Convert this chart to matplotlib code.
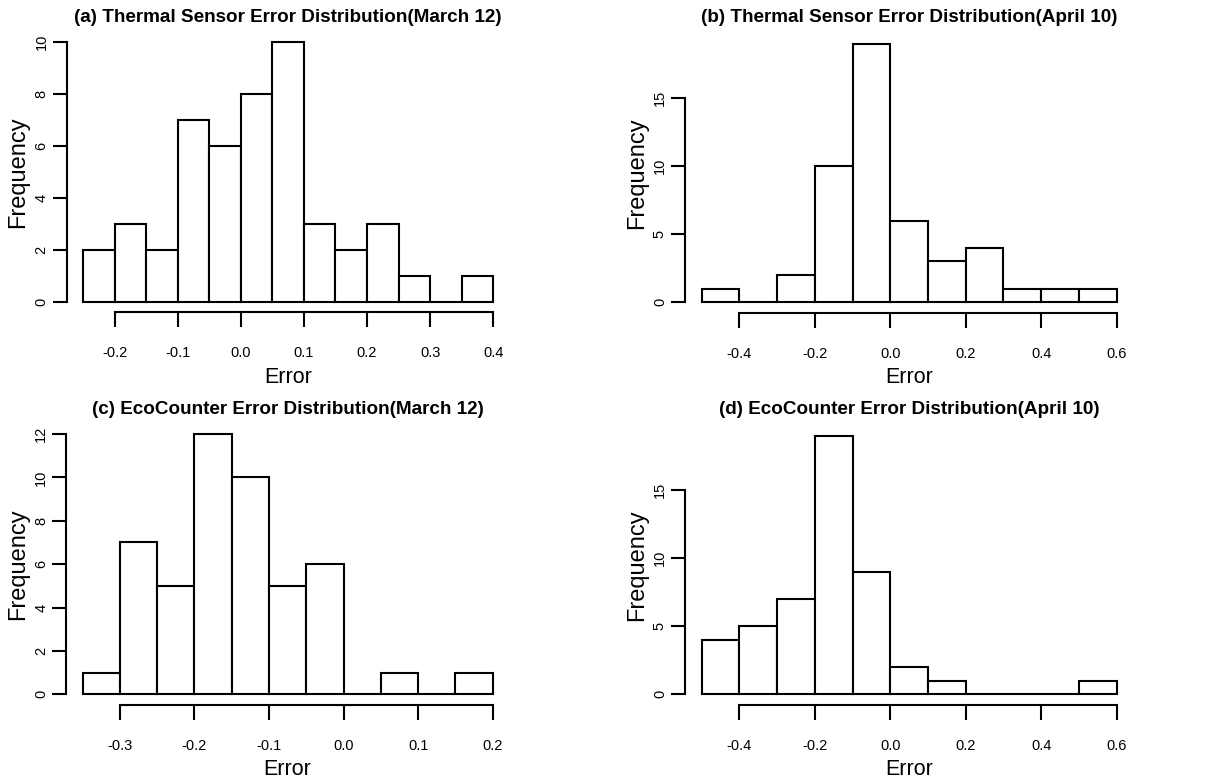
import matplotlib
matplotlib.use("Agg")
import matplotlib.pyplot as plt

# histogram data (bin edges + counts per bin)
edges_a = [-0.25, -0.20, -0.15, -0.10, -0.05, 0.00, 0.05, 0.10, 0.15, 0.20, 0.25, 0.30, 0.35, 0.40]
counts_a = [2, 3, 2, 7, 6, 8, 10, 3, 2, 3, 1, 0, 1]
edges_b = [-0.5, -0.4, -0.3, -0.2, -0.1, 0.0, 0.1, 0.2, 0.3, 0.4, 0.5, 0.6]
counts_b = [1, 0, 2, 10, 19, 6, 3, 4, 1, 1, 1]
edges_c = [-0.35, -0.30, -0.25, -0.20, -0.15, -0.10, -0.05, 0.00, 0.05, 0.10, 0.15, 0.20]
counts_c = [1, 7, 5, 12, 10, 5, 6, 0, 1, 0, 1]
edges_d = [-0.5, -0.4, -0.3, -0.2, -0.1, 0.0, 0.1, 0.2, 0.3, 0.4, 0.5, 0.6]
counts_d = [4, 5, 7, 19, 9, 2, 1, 0, 0, 0, 1]

xticks_a = [-0.2, -0.1, 0.0, 0.1, 0.2, 0.3, 0.4]
xticks_b = [-0.4, -0.2, 0.0, 0.2, 0.4, 0.6]
xticks_c = [-0.3, -0.2, -0.1, 0.0, 0.1, 0.2]
xticks_d = [-0.4, -0.2, 0.0, 0.2, 0.4, 0.6]
yticks_a = [0, 2, 4, 6, 8, 10]
yticks_b = [0, 5, 10, 15]
yticks_c = [0, 2, 4, 6, 8, 10, 12]
yticks_d = [0, 5, 10, 15]

titles = ['(a) Thermal Sensor Error Distribution(March 12)',
          '(b) Thermal Sensor Error Distribution(April 10)',
          '(c) EcoCounter Error Distribution(March 12)',
          '(d) EcoCounter Error Distribution(April 10)']

W, H = 1223, 784
plt.rcParams['font.family'] = ['Liberation Sans', 'DejaVu Sans']

fig = plt.figure(figsize=(W / 100, H / 100), dpi=100)

# plot regions in pixels: left, right, top, bottom
regions = [(66.6, 509.6, 31.6, 312.4),
           (685.0, 1133.3, 33.6, 312.6),
           (66.3, 509.0, 423.6, 704.7),
           (685.0, 1133.3, 425.2, 704.7)]
title_y = [17, 17, 410, 410]
ylab_x = [18, 637, 18, 637]

panels = [(edges_a, counts_a, xticks_a, yticks_a),
          (edges_b, counts_b, xticks_b, yticks_b),
          (edges_c, counts_c, xticks_c, yticks_c),
          (edges_d, counts_d, xticks_d, yticks_d)]

lw = 1.5
for i, ((l, r, t, b), (edges, counts, xt, yt), title) in enumerate(zip(regions, panels, titles)):
    ax = fig.add_axes([l / W, 1 - b / H, (r - l) / W, (b - t) / H])
    lefts = edges[:-1]
    widths = [edges[k + 1] - edges[k] for k in range(len(counts))]
    ax.bar(lefts, counts, width=widths, align='edge', facecolor='white',
           edgecolor='black', linewidth=lw)

    # R-style 4% padding around the data range
    xr = edges[-1] - edges[0]
    ax.set_xlim(edges[0] - 0.04 * xr, edges[-1] + 0.04 * xr)
    ym = max(counts)
    ax.set_ylim(-0.04 * ym, 1.04 * ym)

    for s in ['top', 'right']:
        ax.spines[s].set_visible(False)
    ax.spines['left'].set_bounds(yt[0], yt[-1])
    ax.spines['bottom'].set_bounds(xt[0], xt[-1])
    ax.spines['left'].set_linewidth(lw)
    ax.spines['bottom'].set_linewidth(lw)

    ax.set_xticks(xt)
    ax.set_xticklabels(['%.1f' % v for v in xt])
    ax.set_yticks(yt)
    ax.set_yticklabels([str(v) for v in yt], rotation=90, va='center')
    ax.tick_params(axis='x', length=10.5, width=lw, pad=14, labelsize=10.5)
    ax.tick_params(axis='y', length=10, width=lw, pad=3, labelsize=10.5)

    # axis labels and titles placed by pixel position
    fig.text((l + r) / 2 / W, 1 - (b + 65) / H, 'Error', fontsize=15.5,
             ha='center', va='center')
    fig.text(ylab_x[i] / W, 1 - (t + b) / 2 / H, 'Frequency', fontsize=17,
             rotation=90, ha='center', va='center')
    fig.text((l + r) / 2 / W, 1 - title_y[i] / H, title, fontsize=13.6,
             fontweight='bold', ha='center', va='center')

fig.savefig('out.png', dpi=100)
